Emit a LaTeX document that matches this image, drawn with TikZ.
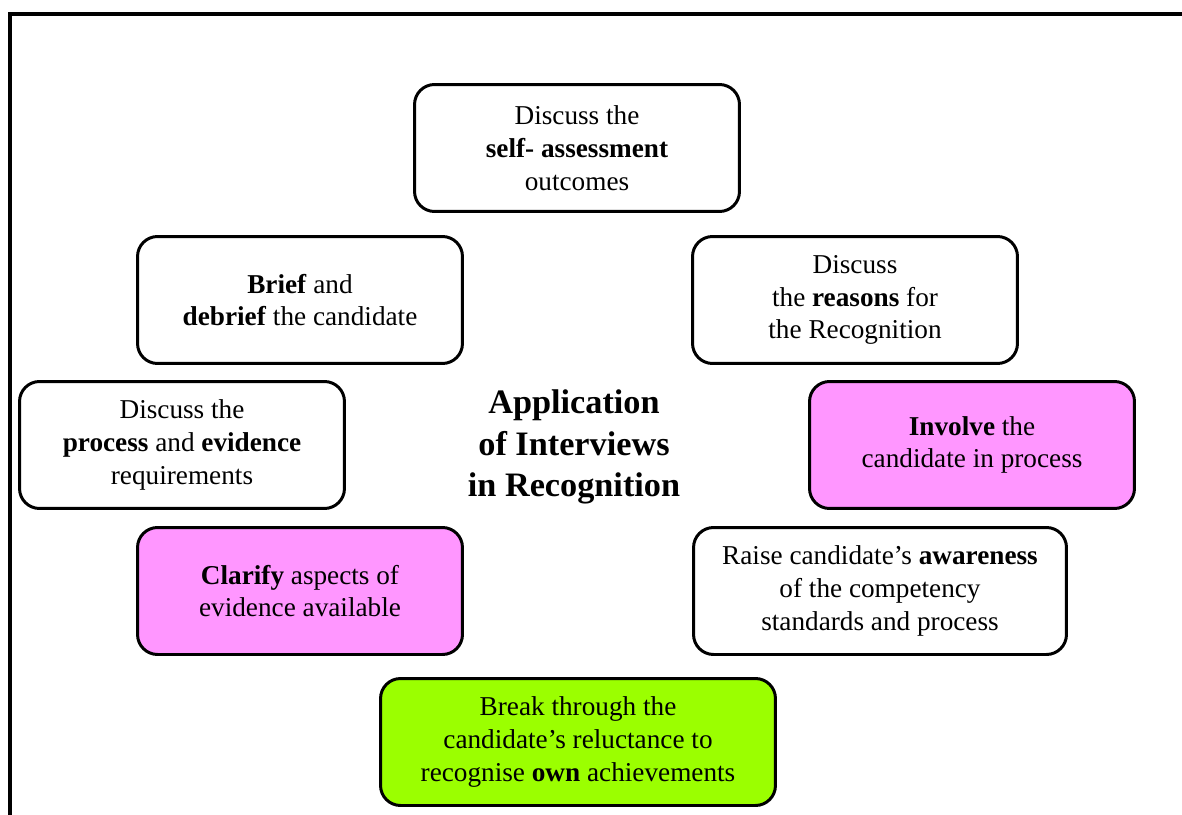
\documentclass[tikz,border=0pt]{standalone}
\usepackage{fontspec}
\setmainfont{Liberation Serif}
\usepackage{xcolor}

\definecolor{boxpink}{RGB}{255,150,255}
\definecolor{boxlime}{RGB}{155,255,0}

\tikzset{
    roundbox/.style={draw, line width=1.7pt, rounded corners=0.4cm, fill=white, rectangle,
        minimum width=6.5cm, minimum height=2.54cm, align=center,
        font=\fontsize{15.5}{18.7}\selectfont},
}

\begin{document}
\begin{tikzpicture}[x=0.02cm, y=-0.02cm]
    \useasboundingbox (0,0) rectangle (1182,814);
    \draw[line width=2.3pt] (10,816) -- (10,14) -- (1184,14);

    \node[roundbox] (selfassess) at (577,148) {Discuss the\\ \textbf{self- assessment}\\ outcomes};

    \node[roundbox] (brief) at (300,300) {\textbf{Brief} and\\ \textbf{debrief} the candidate};

    \node[roundbox] (reasons) at (855,300) {Discuss\\ the \textbf{reasons} for\\ the Recognition};

    \node[roundbox] (process) at (182,445) {Discuss the\\ \textbf{process} and \textbf{evidence}\\ requirements};

    \node[roundbox, fill=boxpink] (involve) at (972,445) {\textbf{Involve} the\\ candidate in process};

    \node[align=center, font=\fontsize{19.5}{23.8}\selectfont\bfseries] (title) at (574,447) {Application\\ of Interviews\\ in Recognition};

    \node[roundbox, fill=boxpink] (clarify) at (300,591) {\textbf{Clarify} aspects of\\ evidence available};

    \node[roundbox, minimum width=7.46cm] (awareness) at (880,591) {Raise candidate's \textbf{awareness}\\ of the competency\\ standards and process};

    \node[roundbox, fill=boxlime, minimum width=7.9cm] (reluctance) at (578,742) {Break through the\\ candidate's reluctance to\\ recognise \textbf{own} achievements};

\end{tikzpicture}
\end{document}
